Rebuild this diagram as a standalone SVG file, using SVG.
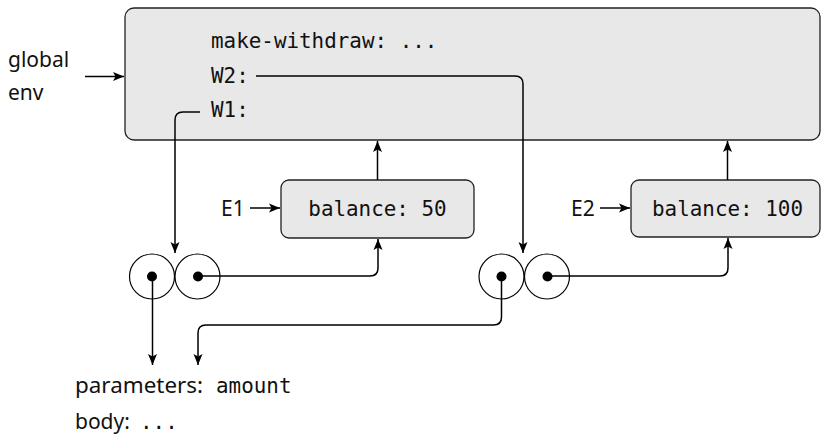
<svg xmlns="http://www.w3.org/2000/svg" width="821" height="436" viewBox="0 0 821 436">
<defs>
<marker id="ah" markerWidth="12" markerHeight="10" viewBox="0 0 12 10" refX="11" refY="5" orient="auto" markerUnits="userSpaceOnUse">
<path d="M0,0.5 L11,5 L0,9.5 L2.5,5 Z" fill="#000"/>
</marker>
<style>
.frame{fill:#e8e8e8;stroke:#222;stroke-width:1.3}
.mono{font-family:"DejaVu Sans Mono","Liberation Mono",monospace;font-size:20.9px;fill:#111}
.sans{font-family:"Noto Sans","Open Sans",sans-serif;font-size:21px;fill:#111}
.cn{fill:none;stroke:#000;stroke-width:1.5;marker-end:url(#ah)}
.cell{fill:#fff;stroke:#000;stroke-width:1.2}
.dot{fill:#000}
</style>
</defs>
<rect width="821" height="436" fill="#fff"/>
<g id="global-label">
<text class="sans" x="8" y="67">global</text>
<text class="sans" x="8" y="100">env</text>
</g>
<g id="global-env">
<rect class="frame" x="125" y="8" width="695" height="132" rx="9"/>
<text class="mono" x="211" y="48">make-withdraw: ...</text>
<text class="mono" x="211" y="83">W2:</text>
<text class="mono" x="211" y="117">W1:</text>
</g>
<g id="E1">
<rect class="frame" x="281" y="180" width="193" height="58" rx="8"/>
<text class="mono" x="377.5" y="216" text-anchor="middle">balance: 50</text>
<text class="sans" x="221" y="216">E1</text>
</g>
<g id="E2">
<rect class="frame" x="631" y="180" width="189" height="57" rx="8"/>
<text class="mono" x="727.5" y="216" text-anchor="middle">balance: 100</text>
<text class="sans" x="571" y="216">E2</text>
</g>
<g id="W1-proc">
<circle class="cell" cx="152" cy="276.5" r="22.5"/>
<circle class="cell" cx="197.5" cy="276.5" r="22.5"/>
<circle class="dot" cx="152" cy="276.5" r="5"/>
<circle class="dot" cx="198" cy="276.5" r="5"/>
</g>
<g id="W2-proc">
<circle class="cell" cx="501.5" cy="276.5" r="22.5"/>
<circle class="cell" cx="547" cy="276.5" r="22.5"/>
<circle class="dot" cx="501.5" cy="276.5" r="5"/>
<circle class="dot" cx="547.5" cy="276.5" r="5"/>
</g>
<g id="code">
<text class="sans" x="75" y="393" textLength="128" lengthAdjust="spacingAndGlyphs">parameters:</text>
<text class="mono" x="216" y="393">amount</text>
<text class="sans" x="75" y="429">body:</text>
<text class="mono" x="140" y="429">...</text>
</g>
<g id="connectors">
<path class="cn" d="M85,76.5 H124"/>
<path class="cn" d="M256,76 H515 Q523,76 523,84 V253"/>
<path class="cn" d="M200,112 H183 Q175,112 175,120 V253"/>
<path class="cn" d="M377.5,180 V141"/>
<path class="cn" d="M727.5,180 V141"/>
<path class="cn" d="M250,208 H280"/>
<path class="cn" d="M600,208 H630"/>
<path class="cn" d="M198,276 H370 Q378,276 378,268 V239"/>
<path class="cn" d="M547.5,276 H720 Q728,276 728,268 V238"/>
<path class="cn" d="M152.5,276 V365"/>
<path class="cn" d="M501.5,276 V317 Q501.5,325 493.5,325 H206 Q198,325 198,333 V365"/>
</g>
</svg>
